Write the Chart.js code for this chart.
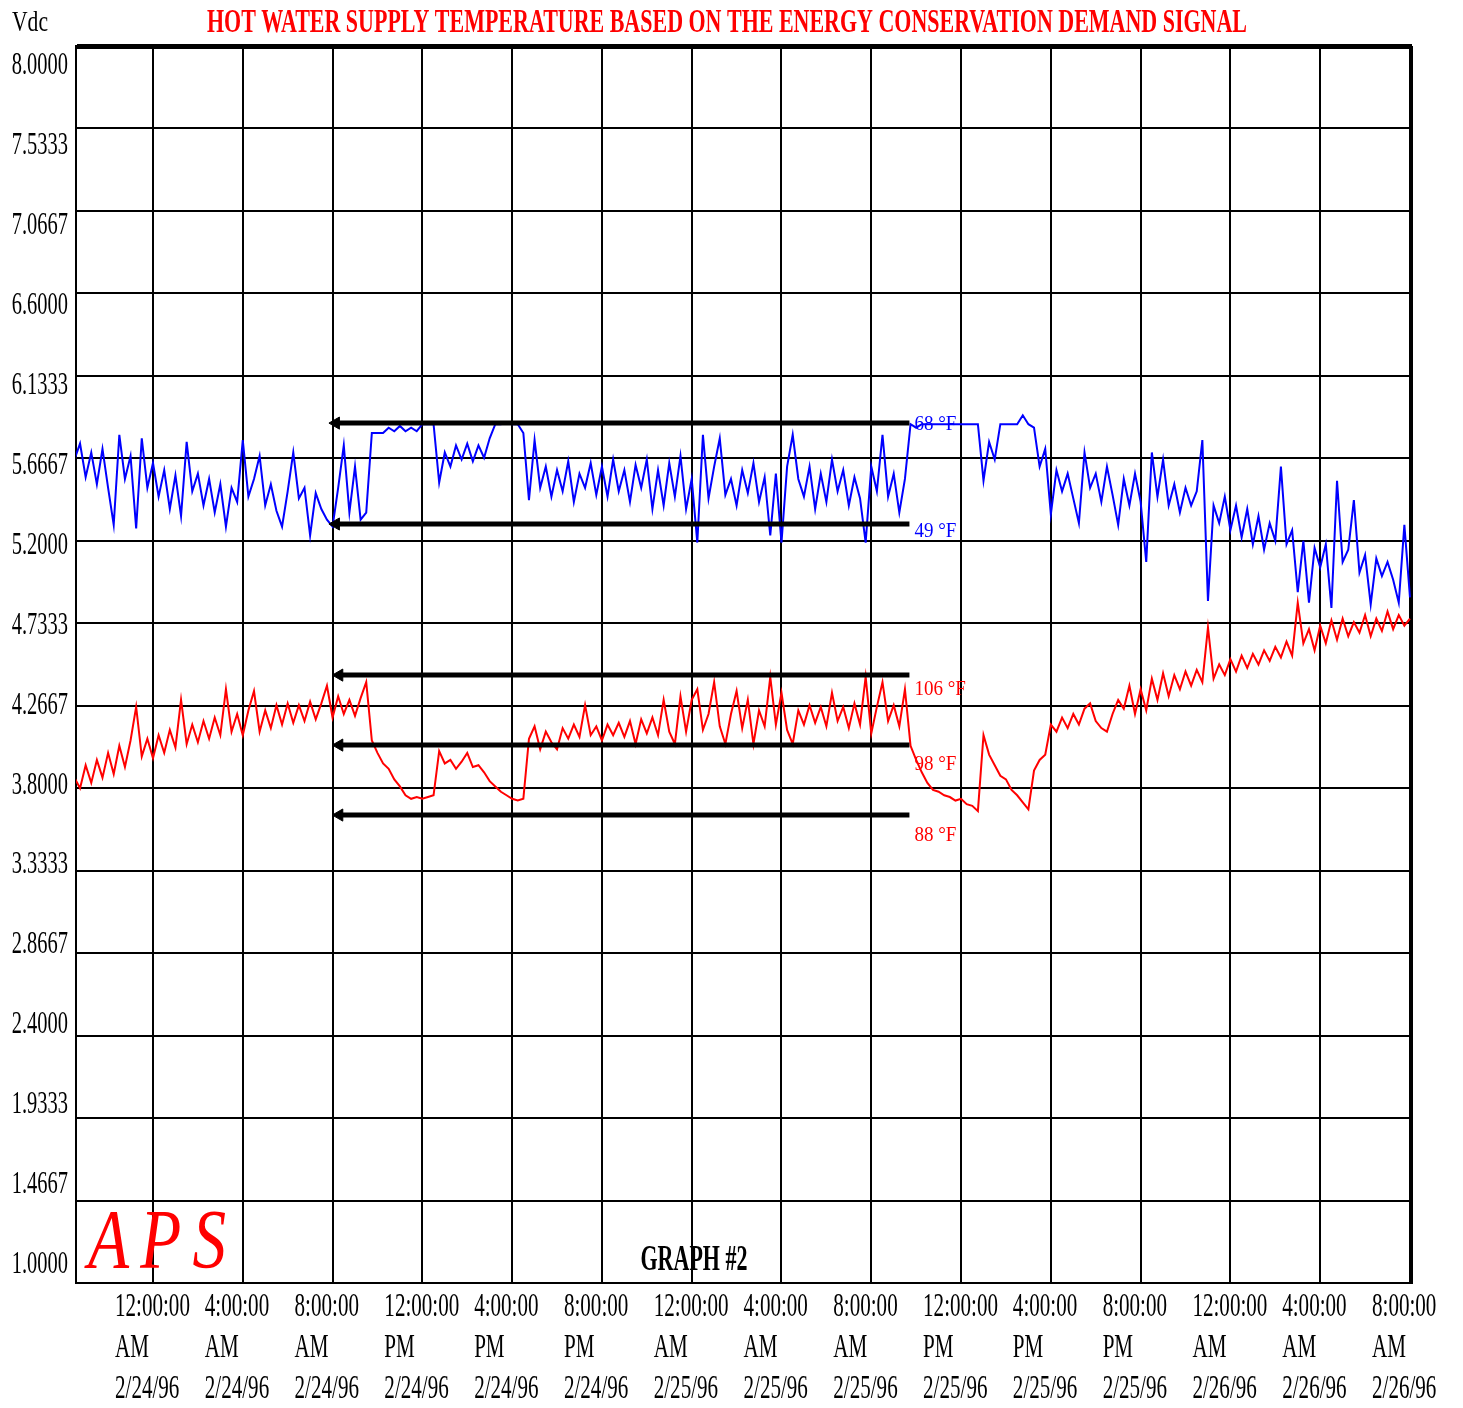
<!DOCTYPE html>
<html>
<head>
<meta charset="utf-8">
<title>Hot water supply temperature</title>
<script src="https://cdn.jsdelivr.net/npm/chart.js@4.4.1/dist/chart.umd.min.js"></script>
<style>
  html, body { margin: 0; padding: 0; background: #fff; }
  canvas { display: block; }
</style>
</head>
<body>
<canvas id="tempChart" width="1463" height="1408"></canvas>
<script>
// time axis, hours from 12:00 AM 2/24/96, one reading every 15 minutes
const firstHour = -3.5;
const hourStep = 0.25;
const xMin = -3.43;
const xMax = 56.09;

const xTickHours = [0, 4, 8, 12, 16, 20, 24, 28, 32, 36, 40, 44, 48, 52, 56];
const xTickLabels = [
    ['12:00:00', 'AM', '2/24/96'], ['4:00:00', 'AM', '2/24/96'], ['8:00:00', 'AM', '2/24/96'],
    ['12:00:00', 'PM', '2/24/96'], ['4:00:00', 'PM', '2/24/96'], ['8:00:00', 'PM', '2/24/96'],
    ['12:00:00', 'AM', '2/25/96'], ['4:00:00', 'AM', '2/25/96'], ['8:00:00', 'AM', '2/25/96'],
    ['12:00:00', 'PM', '2/25/96'], ['4:00:00', 'PM', '2/25/96'], ['8:00:00', 'PM', '2/25/96'],
    ['12:00:00', 'AM', '2/26/96'], ['4:00:00', 'AM', '2/26/96'], ['8:00:00', 'AM', '2/26/96']
];

const yTicks = [1.0, 1.4667, 1.9333, 2.4, 2.8667, 3.3333, 3.8, 4.2667, 4.7333, 5.2, 5.6667, 6.1333, 6.6, 7.0667, 7.5333, 8.0];
const yTickLabels = ['1.0000', '1.4667', '1.9333', '2.4000', '2.8667', '3.3333', '3.8000', '4.2667',
    '4.7333', '5.2000', '5.6667', '6.1333', '6.6000', '7.0667', '7.5333', '8.0000'];

// blue trace (Vdc)
const blueVdc = [
    5.66, 5.75, 5.56, 5.70, 5.52, 5.72, 5.50, 5.29, 5.80, 5.55,
    5.68, 5.27, 5.78, 5.50, 5.64, 5.45, 5.60, 5.38, 5.57, 5.34,
    5.76, 5.48, 5.58, 5.40, 5.55, 5.36, 5.52, 5.28, 5.50, 5.42,
    5.77, 5.45, 5.55, 5.68, 5.40, 5.52, 5.37, 5.28, 5.48, 5.70,
    5.44, 5.50, 5.23, 5.47, 5.38, 5.32, 5.28, 5.50, 5.74, 5.36,
    5.62, 5.32, 5.36, 5.81, 5.81, 5.81, 5.84, 5.82, 5.85, 5.82,
    5.84, 5.82, 5.86, 5.86, 5.86, 5.53, 5.70, 5.62, 5.74, 5.66,
    5.75, 5.65, 5.74, 5.67, 5.78, 5.86, 5.86, 5.87, 5.86, 5.86,
    5.81, 5.43, 5.77, 5.50, 5.62, 5.45, 5.60, 5.48, 5.65, 5.42,
    5.58, 5.50, 5.64, 5.46, 5.62, 5.45, 5.66, 5.48, 5.60, 5.42,
    5.63, 5.50, 5.66, 5.38, 5.60, 5.40, 5.64, 5.45, 5.68, 5.38,
    5.55, 5.19, 5.80, 5.44, 5.62, 5.78, 5.46, 5.55, 5.40, 5.60,
    5.47, 5.64, 5.42, 5.56, 5.23, 5.58, 5.19, 5.62, 5.80, 5.55,
    5.45, 5.62, 5.38, 5.58, 5.42, 5.66, 5.48, 5.60, 5.40, 5.56,
    5.44, 5.19, 5.62, 5.48, 5.80, 5.45, 5.58, 5.36, 5.55, 5.86,
    5.84, 5.86, 5.86, 5.86, 5.86, 5.86, 5.86, 5.86, 5.86, 5.86,
    5.86, 5.86, 5.54, 5.76, 5.66, 5.86, 5.86, 5.86, 5.86, 5.91,
    5.86, 5.84, 5.62, 5.72, 5.35, 5.60, 5.48, 5.58, 5.44, 5.30,
    5.70, 5.50, 5.58, 5.42, 5.62, 5.46, 5.29, 5.55, 5.40, 5.58,
    5.42, 5.08, 5.70, 5.45, 5.66, 5.40, 5.52, 5.36, 5.50, 5.40,
    5.48, 5.77, 4.86, 5.40, 5.30, 5.45, 5.26, 5.40, 5.22, 5.38,
    5.18, 5.34, 5.15, 5.30, 5.20, 5.62, 5.18, 5.26, 4.91, 5.20,
    4.85, 5.16, 5.05, 5.18, 4.82, 5.54, 5.08, 5.15, 5.43, 5.02,
    5.12, 4.84, 5.10, 5.00, 5.08, 4.98, 4.85, 5.29, 4.88
];

// red trace (Vdc)
const redVdc = [
    3.86, 3.80, 3.93, 3.83, 3.96, 3.86, 4.00, 3.88, 4.04, 3.92,
    4.07, 4.26, 3.98, 4.08, 3.97, 4.10, 4.00, 4.13, 4.03, 4.30,
    4.05, 4.16, 4.06, 4.18, 4.08, 4.20, 4.10, 4.36, 4.12, 4.22,
    4.10, 4.24, 4.35, 4.12, 4.24, 4.14, 4.27, 4.16, 4.28, 4.17,
    4.27, 4.18, 4.29, 4.19, 4.28, 4.38, 4.20, 4.32, 4.22, 4.30,
    4.21, 4.31, 4.40, 4.07, 4.00, 3.94, 3.91, 3.85, 3.81, 3.76,
    3.74, 3.75, 3.74, 3.75, 3.76, 4.01, 3.94, 3.96, 3.91, 3.95,
    4.00, 3.92, 3.93, 3.89, 3.84, 3.81, 3.78, 3.76, 3.74, 3.73,
    3.74, 4.08, 4.15, 4.02, 4.12, 4.06, 4.02, 4.14, 4.08, 4.16,
    4.09, 4.27, 4.10, 4.15, 4.07, 4.16, 4.10, 4.17, 4.09, 4.18,
    4.05, 4.19, 4.11, 4.20, 4.10, 4.30, 4.12, 4.05, 4.32, 4.12,
    4.30, 4.36, 4.13, 4.22, 4.40, 4.15, 4.05, 4.22, 4.35, 4.14,
    4.30, 4.05, 4.24, 4.15, 4.43, 4.16, 4.34, 4.13, 4.05, 4.24,
    4.16, 4.27, 4.17, 4.26, 4.15, 4.34, 4.18, 4.26, 4.14, 4.28,
    4.16, 4.43, 4.11, 4.26, 4.40, 4.18, 4.27, 4.15, 4.36, 4.04,
    3.96, 3.89, 3.83, 3.79, 3.78, 3.76, 3.75, 3.73, 3.74, 3.71,
    3.70, 3.67, 4.10, 3.99, 3.93, 3.87, 3.85, 3.79, 3.76, 3.72,
    3.68, 3.90, 3.96, 3.99, 4.16, 4.12, 4.20, 4.14, 4.22, 4.16,
    4.25, 4.28, 4.18, 4.14, 4.12, 4.22, 4.30, 4.25, 4.38, 4.22,
    4.36, 4.24, 4.42, 4.30, 4.45, 4.32, 4.44, 4.36, 4.46, 4.38,
    4.47, 4.40, 4.71, 4.42, 4.50, 4.44, 4.53, 4.46, 4.55, 4.48,
    4.56, 4.50, 4.58, 4.52, 4.60, 4.54, 4.63, 4.55, 4.85, 4.62,
    4.70, 4.58, 4.72, 4.62, 4.75, 4.64, 4.76, 4.66, 4.74, 4.68,
    4.78, 4.66, 4.76, 4.69, 4.80, 4.70, 4.78, 4.72, 4.76
];

// set point arrows and their temperature notes
const arrowVdc = [5.866, 5.295, 4.44, 4.044, 3.648];
const arrowFromHour = [8.15, 8.15, 8.3, 8.3, 8.3];
const arrowToHour = 33.7;
const noteLabels = ['68 °F', '49 °F', '106 °F', '98 °F', '88 °F'];
const noteColors = ['#0000ff', '#0000ff', '#ff0000', '#ff0000', '#ff0000'];
const noteDrop = [2, 8, 15, 20, 21];

const titleText = 'HOT WATER SUPPLY TEMPERATURE BASED ON THE ENERGY CONSERVATION DEMAND SIGNAL';

function toPoints(values) {
    return values.map((v, i) => ({ x: firstHour + i * hourStep, y: v }));
}

// narrow old-style lettering: draw text squeezed horizontally
function squeezed(ctx, text, px, py, font, color, sx, align) {
    ctx.save();
    ctx.font = font;
    ctx.fillStyle = color;
    ctx.textAlign = align || 'left';
    ctx.textBaseline = 'middle';
    ctx.translate(px, py);
    ctx.scale(sx, 1);
    ctx.fillText(text, 0, 0);
    ctx.restore();
}

function fitted(ctx, text, cx, py, font, color, width) {
    ctx.save();
    ctx.font = font;
    const sx = width / ctx.measureText(text).width;
    ctx.restore();
    squeezed(ctx, text, cx, py, font, color, sx, 'center');
}

const labelsPlugin = {
    id: 'oldLabels',
    afterDraw(chart) {
        const { ctx } = chart;
        const xs = chart.scales.x;
        const ys = chart.scales.y;
        const serif = "'Liberation Serif', 'Times New Roman', serif";

        // y labels sit a bit inside the grid, spread from top+20 to bottom-18
        const top = ys.getPixelForValue(8) + 20;
        const bottom = ys.getPixelForValue(1) - 18;
        yTicks.forEach((v, i) => {
            const py = top + (bottom - top) * (8 - v) / 7;
            squeezed(ctx, yTickLabels[i], 68, py, '31px ' + serif, '#000', 0.66, 'right');
        });

        // x labels: three lines, left aligned a little before each grid line
        xTickHours.forEach((h, i) => {
            const px = xs.getPixelForValue(h) - 38;
            xTickLabels[i].forEach((line, k) => {
                squeezed(ctx, line, px, 1307 + k * 41, '34px ' + serif, '#000', 0.62, 'left');
            });
        });

        squeezed(ctx, 'Vdc', 12, 23, '30px ' + serif, '#000', 0.72, 'left');
        fitted(ctx, titleText, 727, 23, 'bold 33px ' + serif, '#ff0000', 1040);
        fitted(ctx, 'GRAPH #2', 694, 1261, 'bold 35px ' + serif, '#000', 107);

        ctx.save();
        ctx.font = 'italic 84px ' + serif;
        ctx.fillStyle = '#ff0000';
        ctx.textBaseline = 'alphabetic';
        ctx.letterSpacing = '14px';
        ctx.translate(88, 1268);
        ctx.scale(0.8, 1);
        ctx.fillText('APS', 0, 0);
        ctx.restore();

        arrowVdc.forEach((v, i) => {
            const px = xs.getPixelForValue(arrowToHour) + 5;
            const py = ys.getPixelForValue(v) + noteDrop[i];
            squeezed(ctx, noteLabels[i], px, py, '20px ' + serif, noteColors[i], 0.95, 'left');
        });
    }
};

const arrowSets = arrowVdc.map((v, i) => ({
    data: [{ x: arrowFromHour[i], y: v }, { x: arrowToHour, y: v }],
    borderColor: '#000',
    backgroundColor: '#000',
    borderWidth: 5,
    pointStyle: 'triangle',
    pointRotation: 270,
    pointRadius: [7, 0],
    pointBorderWidth: 1,
    order: 0
}));

const ctx1 = document.getElementById('tempChart').getContext('2d');
const tempChart = new Chart(ctx1, {
    type: 'line',
    data: {
        datasets: [
            ...arrowSets,
            {
                label: 'Supply',
                data: toPoints(blueVdc),
                borderColor: '#0000ff',
                borderWidth: 2,
                pointRadius: 0,
                tension: 0,
                order: 1
            },
            {
                label: 'Return',
                data: toPoints(redVdc),
                borderColor: '#ff0000',
                borderWidth: 2,
                pointRadius: 0,
                tension: 0,
                order: 1
            }
        ]
    },
    options: {
        responsive: false,
        animation: false,
        devicePixelRatio: 1,
        layout: {
            padding: { left: 76, top: 46, right: 51, bottom: 125 }
        },
        scales: {
            x: {
                type: 'linear',
                min: xMin,
                max: xMax,
                // grid lines every 4 hours plus the right edge of the plot
                afterBuildTicks: axis => { axis.ticks = [...xTickHours, xMax].map(v => ({ value: v })); },
                ticks: { display: false },
                grid: { color: '#000', lineWidth: 2, drawTicks: false },
                border: { color: '#000', width: 2 }
            },
            y: {
                min: 1,
                max: 8,
                afterBuildTicks: axis => { axis.ticks = yTicks.map(v => ({ value: v })); },
                ticks: { display: false },
                grid: {
                    color: '#000',
                    lineWidth: c => (c.tick && c.tick.value === 8 ? 5 : 2),
                    drawTicks: false
                },
                border: { color: '#000', width: 2 }
            }
        },
        plugins: {
            legend: { display: false },
            tooltip: { enabled: false }
        }
    },
    plugins: [labelsPlugin]
});
</script>
</body>
</html>
